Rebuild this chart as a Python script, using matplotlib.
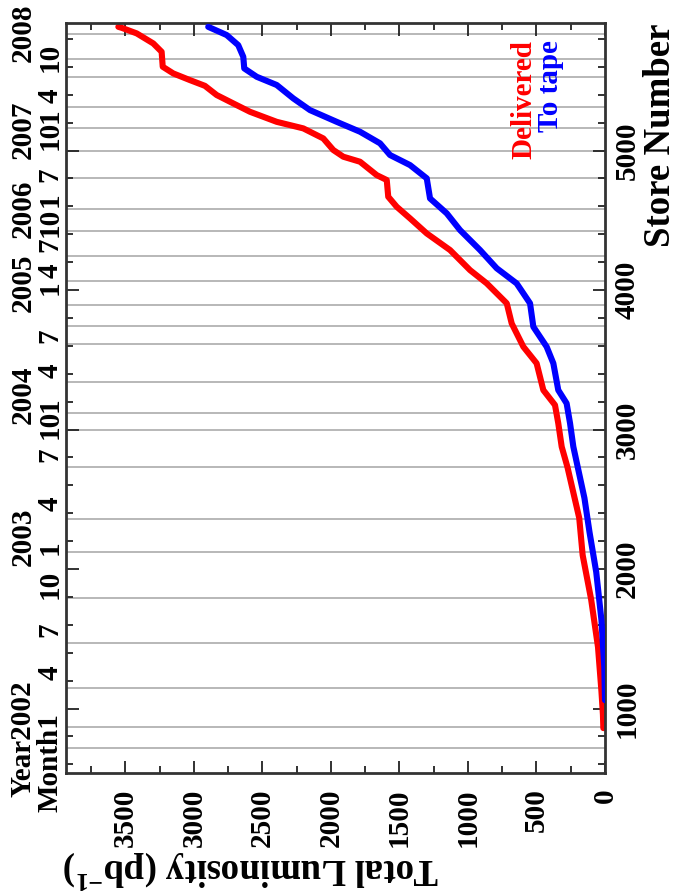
import matplotlib
matplotlib.use('Agg')
import matplotlib.pyplot as plt
import matplotlib.transforms as mtransforms
from matplotlib.ticker import MultipleLocator

plt.rcParams['font.family'] = 'Liberation Serif'
plt.rcParams['font.weight'] = 'bold'
plt.rcParams['mathtext.fontset'] = 'custom'
plt.rcParams['mathtext.rm'] = 'Liberation Serif:bold'
plt.rcParams['mathtext.default'] = 'rm'

# integrated luminosity (pb^-1) versus store number
red_store = [860, 956, 1126, 1441, 1782, 2100, 2366, 2731, 2877, 3045, 3176,
             3283, 3475, 3594, 3761, 3905, 4048, 4143, 4287, 4406, 4514, 4597,
             4669, 4789, 4824, 4920, 4956, 5004, 5087, 5159, 5206, 5278, 5338,
             5398, 5464, 5505, 5553, 5601, 5708, 5768, 5840, 5880, 5887]
red_lum = [12, 15, 26, 51, 101, 163, 188, 274, 316, 341, 365,
           450, 499, 596, 681, 717, 863, 985, 1131, 1301, 1423, 1520,
           1582, 1593, 1666, 1788, 1910, 1983, 2056, 2202, 2396, 2591, 2713,
           2834, 2920, 3029, 3151, 3228, 3236, 3297, 3418, 3528, 3552]

blue_store = [1060, 1298, 1635, 1979, 2265, 2509, 2877, 3045, 3188, 3283,
              3475, 3594, 3737, 3905, 4048, 4156, 4287, 4430, 4550, 4657, 4801,
              4896, 4968, 5052, 5135, 5206, 5290, 5374, 5470, 5529, 5589, 5672,
              5756, 5828, 5887]
blue_lum = [0, 5, 26, 64, 113, 150, 231, 255, 280, 341,
            377, 426, 523, 547, 645, 790, 912, 1058, 1155, 1277, 1301,
            1423, 1569, 1642, 1788, 1958, 2153, 2275, 2396, 2542, 2633, 2640,
            2677, 2761, 2896]

# store numbers at the calendar grid lines
grid_stores = [721, 866, 1147, 1472, 1794, 2120, 2362, 2733, 3000, 3121, 3343,
               3613, 3743, 3893, 4067, 4244, 4427, 4579, 4805, 4998, 5163, 5314,
               5527, 5656, 5839]

# month / year labels (store number where each label ends)
month_pos = [968, 1312, 1621, 1993, 2208, 2517, 2875, 3140, 3234, 3477, 3728,
             4072, 4194, 4380, 4588, 4700, 4882, 5211, 5305, 5448, 5771]
month_txt = ['Month1', '4', '7', '10', '1', '4', '7', '10', '1', '4', '7',
             '1', '4', '7', '10', '1', '7', '10', '1', '4', '10']
year_pos = [1205, 2444, 3462, 4265, 4789, 5362, 6057]
year_txt = ['Year2002', '2003', '2004', '2005', '2006', '2007', '2008']

fs = 21

fig = plt.figure(figsize=(6.79, 8.94), dpi=100)
ax = fig.add_axes([0.0972, 0.1353, 0.7938, 0.8389])

for s in grid_stores:
    ax.axhline(s, color='#b8b8b8', lw=1.4, zorder=0)

ax.plot(red_lum, red_store, color='#ff0000', lw=4.4, solid_capstyle='round',
        solid_joinstyle='round', zorder=2)
ax.plot(blue_lum, blue_store, color='#0000ff', lw=4.4, solid_capstyle='round',
        solid_joinstyle='round', zorder=3)

ax.set_xlim(3934, 0)
ax.set_ylim(538, 5914)

ax.xaxis.set_major_locator(MultipleLocator(500))
ax.xaxis.set_minor_locator(MultipleLocator(250))
ax.yaxis.set_major_locator(MultipleLocator(1000))
ax.yaxis.set_minor_locator(MultipleLocator(200))
ax.yaxis.tick_right()
ax.tick_params(which='both', direction='in', top=True, bottom=True,
               left=True, right=True, labelleft=False, labelright=True,
               width=1.3, color='#222222')
ax.tick_params(which='major', length=9)
ax.tick_params(which='minor', length=5)
ax.tick_params(axis='x', pad=11, labelsize=fs, labelrotation=90)
ax.tick_params(axis='y', pad=6, labelsize=fs, labelrotation=90)
for lab in ax.get_yticklabels():
    lab.set_va('center')

for sp in ax.spines.values():
    sp.set_linewidth(2)
    sp.set_color('#333333')

# calendar labels down the left side
trans = mtransforms.blended_transform_factory(ax.transAxes, ax.transData)
for p, t in zip(month_pos, month_txt):
    ax.text(-0.03, p, t, transform=trans, rotation=90, ha='center', va='top',
            fontsize=fs, clip_on=False)
for p, t in zip(year_pos, year_txt):
    ax.text(-0.08, p, t, transform=trans, rotation=90, ha='center', va='top',
            fontsize=fs, clip_on=False)

ax.text(0.849, 0.977, 'Delivered', transform=ax.transAxes, rotation=90,
        ha='center', va='top', color='#ff0000', fontsize=fs)
ax.text(0.898, 0.977, 'To tape', transform=ax.transAxes, rotation=90,
        ha='center', va='top', color='#0000ff', fontsize=fs)

ax.text(1.103, 1.0, 'Store Number', transform=ax.transAxes, rotation=90,
        ha='center', va='top', fontsize=26.5)
ax.text(-0.007, -0.129, 'Total Luminosity (pb$^{-1}$)', transform=ax.transAxes,
        rotation=180, ha='left', va='center', fontsize=26.5)

fig.savefig('out.png', dpi=100)
